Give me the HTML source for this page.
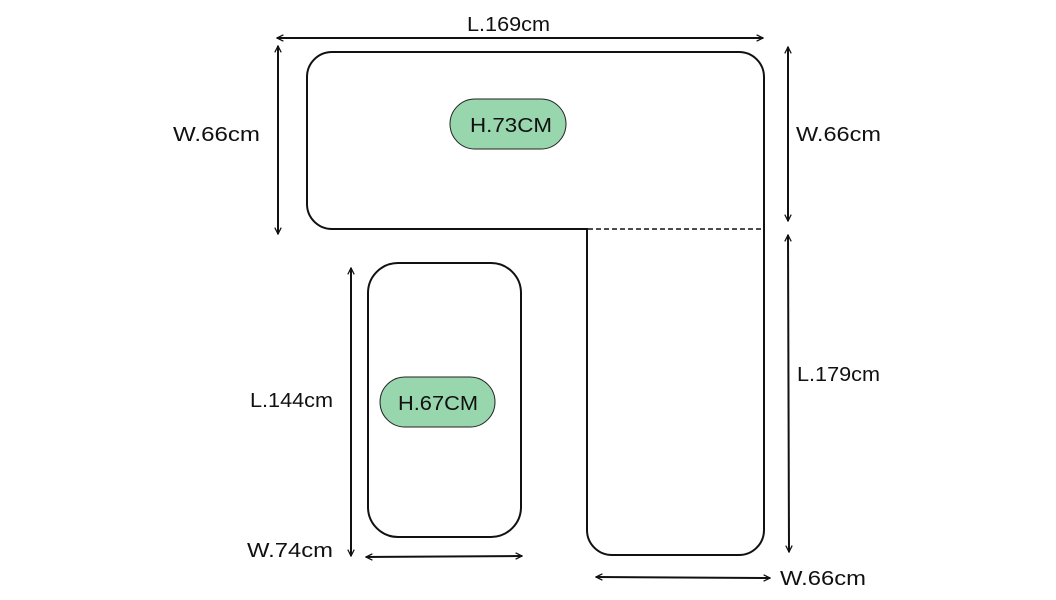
<!DOCTYPE html>
<html><head><meta charset="utf-8"><style>
html,body{margin:0;padding:0;background:#fff;}
svg{display:block;}
text{font-family:"Liberation Sans",sans-serif;font-size:20px;fill:#111;}
</style></head><body>
<svg width="1056" height="600" viewBox="0 0 1056 600" xmlns="http://www.w3.org/2000/svg">
<defs>
<marker id="a" viewBox="0 0 10 10" refX="9" refY="5" markerWidth="8" markerHeight="8" orient="auto-start-reverse" markerUnits="userSpaceOnUse">
<path d="M1,1 L9,5 L1,9" fill="none" stroke="#111" stroke-width="1.6"/>
</marker>
</defs>
<g fill="none" stroke="#111" stroke-width="2">
<path d="M332,52 H739 A25,25 0 0 1 764,77 V530 A25,25 0 0 1 739,555 H612 A25,25 0 0 1 587,530 V229 H332 A25,25 0 0 1 307,204 V77 A25,25 0 0 1 332,52 Z"/>
<rect x="368" y="263" width="153" height="274" rx="30"/>
</g>
<line x1="588" y1="229" x2="763" y2="229" stroke="#fff" stroke-width="3"/>
<line x1="588" y1="229" x2="763" y2="229" stroke="#111" stroke-width="1.5" stroke-dasharray="5,3"/>
<rect x="450" y="99" width="116" height="50" rx="25" fill="#98d6ad" stroke="#222" stroke-width="1"/>
<rect x="380" y="377" width="115" height="50" rx="25" fill="#98d6ad" stroke="#222" stroke-width="1"/>
<g stroke="#111" stroke-width="2" marker-start="url(#a)" marker-end="url(#a)">
<line x1="277" y1="38" x2="763" y2="38"/>
<line x1="278" y1="46" x2="278" y2="234"/>
<line x1="788" y1="47" x2="788" y2="221"/>
<line x1="788" y1="235" x2="789" y2="552"/>
<line x1="351" y1="268" x2="351" y2="556"/>
<line x1="366" y1="557" x2="522" y2="556"/>
<line x1="596" y1="577" x2="770" y2="578"/>
</g>
<text x="467" y="31" textLength="83" lengthAdjust="spacingAndGlyphs">L.169cm</text>
<text x="470" y="132" textLength="82" lengthAdjust="spacingAndGlyphs">H.73CM</text>
<text x="398" y="410" textLength="80" lengthAdjust="spacingAndGlyphs">H.67CM</text>
<text x="173" y="141" textLength="87" lengthAdjust="spacingAndGlyphs">W.66cm</text>
<text x="796" y="141" textLength="85" lengthAdjust="spacingAndGlyphs">W.66cm</text>
<text x="797" y="381" textLength="83" lengthAdjust="spacingAndGlyphs">L.179cm</text>
<text x="250" y="407" textLength="83" lengthAdjust="spacingAndGlyphs">L.144cm</text>
<text x="247" y="557" textLength="86" lengthAdjust="spacingAndGlyphs">W.74cm</text>
<text x="780" y="585" textLength="86" lengthAdjust="spacingAndGlyphs">W.66cm</text>
</svg>
</body></html>
